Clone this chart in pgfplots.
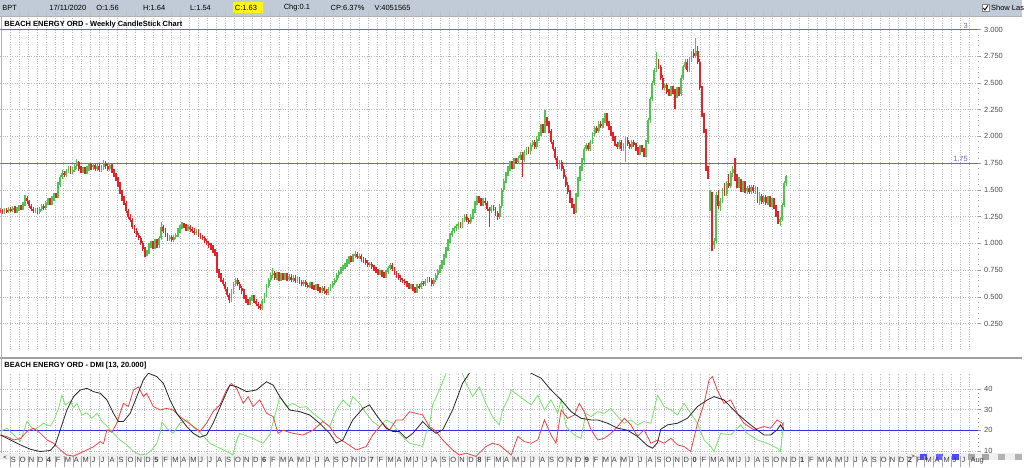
\documentclass[border=0pt]{standalone}
\usepackage{pgfplots}
\pgfplotsset{compat=1.18}
\usepackage{pgfplotstable}
\usepackage{fontspec}
\setmainfont{Liberation Sans}
\definecolor{upc}{RGB}{80,196,80}
\definecolor{dnc}{RGB}{230,34,40}
\definecolor{hdr}{RGB}{192,203,215}
\definecolor{lvl}{RGB}{105,105,195}
\definecolor{gridc}{RGB}{185,185,185}
\definecolor{dmiblue}{RGB}{50,50,235}
\definecolor{pdi}{RGB}{120,225,110}
\definecolor{mdi}{RGB}{235,70,70}
\newcommand\sm{\fontsize{7.5}{9}\selectfont}

% weekly candles (x = week number from Aug 2013), rising weeks
\pgfplotstableread{
x o h l c
2 1.29 1.33 1.27 1.31
4 1.30 1.34 1.28 1.32
6 1.31 1.35 1.29 1.33
8 1.30 1.34 1.28 1.32
9 1.32 1.36 1.30 1.34
11 1.33 1.39 1.31 1.37
12 1.37 1.45 1.35 1.42
17 1.30 1.33 1.28 1.31
19 1.29 1.34 1.27 1.32
20 1.32 1.37 1.30 1.35
22 1.33 1.40 1.31 1.38
23 1.38 1.42 1.36 1.40
25 1.38 1.44 1.36 1.42
26 1.42 1.47 1.40 1.45
28 1.44 1.57 1.42 1.55
29 1.55 1.64 1.53 1.62
30 1.62 1.69 1.60 1.66
32 1.64 1.70 1.62 1.68
33 1.68 1.72 1.66 1.70
35 1.67 1.71 1.65 1.69
36 1.69 1.74 1.67 1.72
37 1.72 1.79 1.70 1.76
40 1.68 1.71 1.66 1.69
42 1.67 1.72 1.65 1.70
43 1.70 1.74 1.68 1.72
45 1.71 1.75 1.69 1.73
47 1.70 1.74 1.68 1.72
49 1.69 1.73 1.67 1.71
50 1.71 1.78 1.69 1.75
53 1.70 1.75 1.68 1.73
71 0.90 0.94 0.88 0.92
72 0.92 1.00 0.90 0.98
73 0.98 1.02 0.96 1.00
75 0.97 1.04 0.95 1.02
77 0.98 1.07 0.96 1.05
78 1.05 1.20 1.03 1.15
82 1.04 1.08 1.02 1.06
84 1.03 1.08 1.01 1.06
85 1.06 1.10 1.04 1.08
86 1.08 1.14 1.06 1.12
87 1.12 1.17 1.10 1.15
88 1.15 1.20 1.13 1.17
91 1.14 1.17 1.12 1.15
95 1.10 1.13 1.08 1.11
112 0.47 0.57 0.45 0.55
113 0.55 0.64 0.53 0.62
114 0.62 0.68 0.60 0.66
121 0.44 0.50 0.42 0.48
122 0.48 0.52 0.46 0.50
127 0.40 0.48 0.38 0.46
128 0.46 0.54 0.44 0.52
129 0.52 0.62 0.50 0.60
130 0.60 0.68 0.58 0.66
131 0.66 0.72 0.64 0.70
132 0.70 0.77 0.68 0.72
134 0.68 0.73 0.66 0.71
136 0.67 0.72 0.65 0.70
138 0.68 0.72 0.66 0.70
140 0.67 0.71 0.65 0.69
142 0.66 0.70 0.64 0.68
144 0.65 0.69 0.63 0.67
147 0.62 0.66 0.60 0.64
150 0.60 0.64 0.58 0.62
153 0.58 0.62 0.56 0.60
156 0.56 0.60 0.54 0.58
159 0.54 0.59 0.52 0.57
160 0.57 0.62 0.55 0.60
161 0.60 0.65 0.58 0.63
162 0.63 0.68 0.61 0.66
163 0.66 0.72 0.64 0.70
164 0.70 0.75 0.68 0.73
165 0.73 0.78 0.71 0.76
166 0.76 0.80 0.74 0.78
167 0.78 0.82 0.76 0.80
168 0.80 0.85 0.78 0.83
169 0.83 0.88 0.81 0.86
171 0.85 0.90 0.83 0.88
172 0.88 0.93 0.86 0.90
174 0.87 0.90 0.85 0.88
179 0.80 0.83 0.78 0.81
184 0.72 0.75 0.70 0.73
187 0.70 0.75 0.68 0.73
188 0.73 0.79 0.71 0.77
189 0.77 0.82 0.75 0.80
199 0.59 0.62 0.57 0.60
202 0.56 0.62 0.54 0.60
204 0.59 0.65 0.57 0.63
206 0.62 0.67 0.60 0.65
207 0.65 0.69 0.63 0.67
210 0.62 0.68 0.60 0.66
211 0.66 0.72 0.64 0.70
212 0.70 0.76 0.68 0.74
213 0.74 0.80 0.72 0.78
214 0.78 0.84 0.76 0.82
215 0.82 0.90 0.80 0.88
216 0.88 0.97 0.86 0.95
217 0.95 1.04 0.93 1.02
218 1.02 1.10 1.00 1.08
219 1.08 1.14 1.06 1.12
220 1.12 1.16 1.10 1.14
221 1.14 1.18 1.12 1.16
222 1.16 1.20 1.13 1.18
224 1.16 1.24 1.14 1.22
225 1.22 1.27 1.20 1.25
228 1.20 1.27 1.18 1.25
229 1.25 1.32 1.23 1.30
230 1.30 1.40 1.28 1.38
231 1.38 1.44 1.36 1.42
234 1.37 1.42 1.35 1.40
238 1.30 1.36 1.28 1.34
242 1.25 1.37 1.23 1.35
243 1.35 1.52 1.33 1.50
244 1.50 1.60 1.48 1.58
245 1.58 1.67 1.56 1.65
246 1.65 1.72 1.63 1.70
247 1.70 1.77 1.68 1.75
249 1.72 1.80 1.70 1.78
251 1.76 1.82 1.74 1.80
252 1.80 1.85 1.78 1.83
254 1.78 1.87 1.76 1.85
255 1.85 1.90 1.83 1.88
257 1.86 1.94 1.84 1.92
258 1.92 1.97 1.90 1.95
260 1.90 2.00 1.88 1.98
261 1.98 2.04 1.96 2.02
262 2.02 2.12 2.00 2.10
264 2.05 2.25 2.03 2.15
271 1.72 1.78 1.70 1.76
279 1.30 1.47 1.28 1.45
280 1.45 1.62 1.43 1.60
281 1.60 1.72 1.58 1.70
282 1.70 1.80 1.68 1.78
283 1.78 1.90 1.76 1.88
284 1.88 1.94 1.86 1.92
286 1.88 1.97 1.86 1.95
287 1.95 2.04 1.93 2.02
288 2.02 2.10 2.00 2.08
290 2.05 2.14 2.03 2.12
292 2.10 2.17 2.08 2.15
293 2.15 2.22 2.13 2.20
300 1.90 1.97 1.88 1.95
302 1.88 1.94 1.86 1.92
303 1.92 1.99 1.76 1.97
306 1.90 1.97 1.88 1.95
310 1.85 1.92 1.83 1.90
313 1.83 1.97 1.81 1.95
314 1.95 2.17 1.93 2.15
315 2.15 2.37 2.13 2.35
316 2.35 2.52 2.33 2.50
317 2.50 2.64 2.48 2.62
318 2.62 2.79 2.60 2.70
322 2.45 2.50 2.43 2.48
325 2.40 2.47 2.38 2.45
328 2.38 2.46 2.36 2.44
330 2.40 2.57 2.38 2.55
331 2.55 2.67 2.53 2.65
332 2.65 2.72 2.63 2.70
334 2.62 2.74 2.60 2.72
335 2.72 2.80 2.70 2.78
337 2.75 2.92 2.73 2.80
344 1.35 1.50 1.30 1.46
346 0.98 1.05 0.95 1.02
347 1.02 1.48 1.00 1.45
349 1.35 1.42 1.30 1.40
350 1.40 1.52 1.38 1.50
352 1.46 1.58 1.44 1.56
354 1.54 1.68 1.52 1.66
355 1.66 1.72 1.62 1.70
358 1.55 1.62 1.52 1.58
360 1.50 1.58 1.48 1.56
362 1.49 1.54 1.46 1.52
364 1.48 1.55 1.46 1.53
366 1.49 1.54 1.46 1.52
368 1.40 1.48 1.36 1.44
370 1.39 1.45 1.37 1.43
372 1.38 1.44 1.36 1.42
374 1.36 1.42 1.34 1.40
378 1.20 1.25 1.16 1.23
379 1.23 1.38 1.21 1.36
380 1.36 1.58 1.34 1.56
381 1.56 1.64 1.54 1.63
}\up

% falling weeks
\pgfplotstableread{
x o h l c
0 1.31 1.33 1.28 1.30
1 1.30 1.32 1.27 1.29
3 1.31 1.33 1.28 1.30
5 1.32 1.34 1.29 1.31
7 1.33 1.35 1.28 1.30
10 1.34 1.36 1.31 1.33
13 1.42 1.44 1.37 1.40
14 1.40 1.41 1.33 1.35
15 1.35 1.37 1.30 1.32
16 1.32 1.34 1.28 1.30
18 1.31 1.33 1.27 1.29
21 1.35 1.37 1.31 1.33
24 1.40 1.42 1.36 1.38
27 1.45 1.47 1.42 1.44
31 1.66 1.68 1.62 1.64
34 1.70 1.72 1.65 1.67
38 1.76 1.77 1.68 1.70
39 1.70 1.72 1.66 1.68
41 1.69 1.71 1.65 1.67
44 1.72 1.74 1.69 1.71
46 1.73 1.75 1.68 1.70
48 1.72 1.74 1.67 1.69
51 1.75 1.77 1.70 1.72
52 1.72 1.74 1.68 1.70
54 1.73 1.74 1.66 1.68
55 1.68 1.70 1.62 1.64
56 1.64 1.66 1.58 1.60
57 1.60 1.62 1.53 1.55
58 1.55 1.57 1.46 1.48
59 1.48 1.50 1.40 1.42
60 1.42 1.44 1.36 1.38
61 1.38 1.40 1.28 1.30
62 1.30 1.32 1.23 1.25
63 1.25 1.27 1.20 1.22
64 1.22 1.24 1.13 1.15
65 1.15 1.17 1.10 1.12
66 1.12 1.14 1.06 1.08
67 1.08 1.10 1.03 1.05
68 1.05 1.07 0.98 1.00
69 1.00 1.02 0.93 0.95
70 0.95 0.97 0.87 0.90
74 1.00 1.02 0.95 0.97
76 1.02 1.04 0.96 0.98
79 1.15 1.17 1.10 1.12
80 1.12 1.14 1.06 1.08
81 1.08 1.10 1.02 1.04
83 1.06 1.08 1.01 1.03
89 1.17 1.19 1.14 1.16
90 1.16 1.18 1.12 1.14
92 1.15 1.17 1.11 1.13
93 1.13 1.15 1.10 1.12
94 1.12 1.14 1.08 1.10
96 1.11 1.13 1.06 1.08
97 1.08 1.10 1.04 1.06
98 1.06 1.08 1.03 1.05
99 1.05 1.07 1.00 1.02
100 1.02 1.04 0.98 1.00
101 1.00 1.02 0.96 0.98
102 0.98 1.00 0.94 0.96
103 0.96 0.98 0.91 0.93
104 0.93 0.95 0.88 0.90
105 0.90 0.92 0.72 0.74
106 0.74 0.76 0.68 0.70
107 0.70 0.72 0.64 0.66
108 0.66 0.68 0.60 0.62
109 0.62 0.64 0.55 0.57
110 0.57 0.59 0.50 0.52
111 0.52 0.54 0.44 0.47
115 0.66 0.68 0.60 0.62
116 0.62 0.64 0.56 0.58
117 0.58 0.60 0.53 0.55
118 0.55 0.57 0.48 0.50
119 0.50 0.52 0.44 0.46
120 0.46 0.48 0.42 0.44
123 0.50 0.52 0.44 0.46
124 0.46 0.48 0.41 0.43
125 0.43 0.45 0.39 0.41
126 0.41 0.43 0.38 0.40
133 0.72 0.74 0.66 0.68
135 0.71 0.73 0.65 0.67
137 0.70 0.72 0.66 0.68
139 0.70 0.72 0.65 0.67
141 0.69 0.71 0.64 0.66
143 0.68 0.70 0.63 0.65
145 0.67 0.69 0.62 0.64
146 0.64 0.66 0.60 0.62
148 0.64 0.66 0.59 0.61
149 0.61 0.63 0.58 0.60
151 0.62 0.64 0.57 0.59
152 0.59 0.61 0.56 0.58
154 0.60 0.62 0.55 0.57
155 0.57 0.59 0.54 0.56
157 0.58 0.60 0.53 0.55
158 0.55 0.57 0.52 0.54
170 0.86 0.88 0.83 0.85
173 0.90 0.92 0.85 0.87
175 0.88 0.90 0.83 0.85
176 0.85 0.87 0.82 0.84
177 0.84 0.86 0.80 0.82
178 0.82 0.84 0.78 0.80
180 0.81 0.83 0.76 0.78
181 0.78 0.80 0.74 0.76
182 0.76 0.78 0.72 0.74
183 0.74 0.76 0.70 0.72
185 0.73 0.75 0.69 0.71
186 0.71 0.73 0.68 0.70
190 0.80 0.82 0.74 0.76
191 0.76 0.78 0.70 0.72
192 0.72 0.74 0.68 0.70
193 0.70 0.72 0.66 0.68
194 0.68 0.70 0.64 0.66
195 0.66 0.68 0.63 0.65
196 0.65 0.67 0.61 0.63
197 0.63 0.65 0.59 0.61
198 0.61 0.63 0.57 0.59
200 0.60 0.62 0.55 0.57
201 0.57 0.59 0.54 0.56
203 0.60 0.62 0.57 0.59
205 0.63 0.65 0.60 0.62
208 0.67 0.69 0.64 0.66
209 0.66 0.68 0.60 0.62
223 1.18 1.20 1.14 1.16
226 1.25 1.27 1.20 1.22
227 1.22 1.24 1.18 1.20
232 1.42 1.44 1.38 1.40
233 1.40 1.42 1.35 1.37
235 1.40 1.42 1.36 1.38
236 1.38 1.40 1.30 1.32
237 1.32 1.34 1.15 1.30
239 1.34 1.36 1.30 1.32
240 1.32 1.34 1.26 1.28
241 1.28 1.30 1.22 1.25
248 1.75 1.77 1.70 1.72
250 1.78 1.80 1.74 1.76
253 1.83 1.85 1.62 1.78
256 1.88 1.90 1.84 1.86
259 1.95 1.97 1.88 1.90
263 2.10 2.12 2.03 2.05
265 2.15 2.18 2.10 2.12
266 2.12 2.14 2.03 2.05
267 2.05 2.07 1.93 1.95
268 1.95 1.97 1.86 1.88
269 1.88 1.90 1.78 1.80
270 1.80 1.82 1.70 1.72
272 1.76 1.78 1.68 1.70
273 1.70 1.72 1.60 1.62
274 1.62 1.64 1.53 1.55
275 1.55 1.57 1.46 1.48
276 1.48 1.50 1.38 1.40
277 1.40 1.42 1.33 1.35
278 1.35 1.37 1.27 1.30
285 1.92 1.94 1.86 1.88
289 2.08 2.10 2.03 2.05
291 2.12 2.14 2.08 2.10
294 2.20 2.22 2.10 2.12
295 2.12 2.14 2.06 2.08
296 2.08 2.10 2.00 2.02
297 2.02 2.04 1.96 1.98
298 1.98 2.00 1.91 1.93
299 1.93 1.95 1.88 1.90
301 1.95 1.97 1.86 1.88
304 1.97 1.99 1.91 1.93
305 1.93 1.95 1.88 1.90
307 1.95 1.97 1.90 1.92
308 1.92 1.94 1.86 1.88
309 1.88 1.90 1.83 1.85
311 1.90 1.92 1.85 1.87
312 1.87 1.89 1.81 1.83
319 2.70 2.72 2.63 2.65
320 2.65 2.67 2.53 2.55
321 2.55 2.57 2.43 2.45
323 2.48 2.50 2.40 2.42
324 2.42 2.44 2.38 2.40
326 2.45 2.47 2.40 2.42
327 2.42 2.44 2.26 2.38
329 2.44 2.46 2.38 2.40
333 2.70 2.72 2.60 2.62
336 2.78 2.82 2.73 2.75
338 2.80 2.85 2.68 2.70
339 2.70 2.72 2.43 2.45
340 2.45 2.47 2.18 2.20
341 2.20 2.22 2.03 2.05
342 2.05 2.07 1.68 1.70
343 1.70 1.72 1.60 1.62
345 1.46 1.48 0.93 0.98
348 1.45 1.50 1.32 1.35
351 1.50 1.56 1.44 1.46
353 1.56 1.65 1.52 1.54
356 1.70 1.80 1.58 1.60
357 1.60 1.65 1.52 1.55
359 1.58 1.60 1.48 1.50
361 1.56 1.58 1.47 1.49
363 1.52 1.55 1.46 1.48
365 1.53 1.55 1.47 1.49
367 1.52 1.53 1.38 1.40
369 1.44 1.46 1.37 1.39
371 1.43 1.45 1.36 1.38
373 1.42 1.44 1.34 1.36
375 1.40 1.42 1.32 1.34
376 1.34 1.36 1.25 1.28
377 1.28 1.30 1.18 1.20
}\down

\begin{document}
\begin{tikzpicture}[x=1pt,y=1pt,font=\sm]
\fill[white] (0,0) rectangle (1024,461);
% header bar
\fill[hdr] (0,445) rectangle (1024,461);
\draw[gray!60] (0,444.5) -- (1024,444.5);
\fill[yellow!90!white] (233,448) rectangle (263,459);
\node[anchor=west,inner sep=0] at (2,453.5) {BPT};
\node[anchor=west,inner sep=0] at (49,453.5) {17/11/2020};
\node[anchor=west,inner sep=0] at (96,453.5) {O:1.56};
\node[anchor=west,inner sep=0] at (143,453.5) {H:1.64};
\node[anchor=west,inner sep=0] at (190,453.5) {L:1.54};
\node[anchor=west,inner sep=0] at (235,453.5) {C:1.63};
\node[anchor=west,inner sep=0] at (284,453.5) {Chg:0.1};
\node[anchor=west,inner sep=0] at (331,453.5) {CP:6.37\%};
\node[anchor=west,inner sep=0] at (375,453.5) {V:4051565};
\fill[white] (984,449.5) rectangle (991,456.5);
\draw[gray] (984,449.5) rectangle (991,456.5);
\draw[black,line width=0.9pt] (985.3,453) -- (987,451) -- (990,455.5);
\node[anchor=west,inner sep=0] at (993,453.5) {Show Las};
% panel separator
\fill[gray!75] (0,101) rectangle (1024,103.5);
% bottom scroll strip
\fill[gray!12] (0,0) rectangle (1024,6.5);
\node[anchor=west,inner sep=0,font=\fontsize{6}{6}\selectfont] at (3,2.5) {<};
\node[anchor=west,inner sep=0,font=\fontsize{6}{6}\selectfont] at (913,3.5) {>};
\foreach \xx/\cc in {922/blue!70,938/blue!60,954/blue!70,970/gray!70,984/gray!70,1000/gray!60,1017/gray!60}
  \fill[\cc] (\xx,0) rectangle ++(7,6);
\draw[gray!60] (0.5,6.5) -- (0.5,444);

% ---------------- price panel
\begin{axis}[at={(0,104)}, anchor=south west, scale only axis,
  width=980pt, height=340pt,
  xmin=-0.05, xmax=473.85, ymin=0.015, ymax=3.187,
  axis line style={draw=none},
  xtick={4.642,8.989,...,470.5}, xticklabels={}, major x tick style={draw=none},
  xtick pos=left,
  ytick={0.25,0.5,...,3.01}, minor y tick num=4,
  ytick pos=right, yticklabel pos=right,
  tick align=outside, major tick length=3pt, minor tick length=1.2pt,
  y tick style={gray!80, line width=0.6pt},
  yticklabel style={font=\sm, color=black!70, inner sep=1pt, xshift=2pt},
  /pgf/number format/.cd, fixed, fixed zerofill, precision=3, assume math mode=true,
  /pgfplots/.cd,
  grid=major, grid style={gridc, dotted, line width=0.6pt},
  ]
  \addplot[lvl, line width=0.7pt, forget plot] coordinates {(-1,3) (475,3)};
  \addplot[lvl, line width=0.7pt, forget plot] coordinates {(-1,1.75) (475,1.75)};
  \node[anchor=south east, inner sep=1pt, text=lvl] at (axis cs:469.5,3) {3};
  \node[anchor=south east, inner sep=1pt, text=lvl] at (axis cs:469.5,1.75) {1.75};
  % wicks, low to high
  \addplot[draw=none, mark=none, forget plot,
    error bars/.cd, y dir=both, y explicit, error mark=none,
    error bar style={draw=upc, line width=1.4pt, line cap=butt}]
    table[x=x, y expr=(\thisrow{h}+\thisrow{l})/2, y error expr=(\thisrow{h}-\thisrow{l})/2] {\up};
  \addplot[draw=none, mark=none, forget plot,
    error bars/.cd, y dir=both, y explicit, error mark=none,
    error bar style={draw=dnc, line width=1.4pt, line cap=butt}]
    table[x=x, y expr=(\thisrow{h}+\thisrow{l})/2, y error expr=(\thisrow{h}-\thisrow{l})/2] {\down};
  % bodies, open to close
  \addplot[draw=none, mark=none, forget plot,
    error bars/.cd, y dir=both, y explicit, error mark=none,
    error bar style={draw=upc, line width=1.9pt, line cap=butt}]
    table[x=x, y expr=(\thisrow{o}+\thisrow{c})/2, y error expr=(\thisrow{c}-\thisrow{o})/2] {\up};
  \addplot[draw=none, mark=none, forget plot,
    error bars/.cd, y dir=both, y explicit, error mark=none,
    error bar style={draw=dnc, line width=1.9pt, line cap=butt}]
    table[x=x, y expr=(\thisrow{o}+\thisrow{c})/2, y error expr=(\thisrow{o}-\thisrow{c})/2] {\down};
\end{axis}
\node[anchor=west, inner sep=0, font=\sm\bfseries] at (4,436) {BEACH ENERGY ORD - Weekly CandleStick Chart};

% ---------------- DMI panel
\begin{axis}[at={(0,18)}, anchor=south west, scale only axis,
  width=980pt, height=83pt,
  xmin=-0.05, xmax=473.85, ymin=7.44, ymax=47.54,
  axis line style={draw=none},
  xtick=\empty,
  extra x ticks={4.642,8.989,...,470.5},
  extra x tick labels={S,O,N,D,\textbf{4},F,M,A,M,J,J,A,S,O,N,D,\textbf{5},F,M,A,M,J,J,A,S,O,N,D,\textbf{6},F,M,A,M,J,J,A,S,O,N,D,\textbf{7},F,M,A,M,J,J,A,S,O,N,D,\textbf{8},F,M,A,M,J,J,A,S,O,N,D,\textbf{9},F,M,A,M,J,J,A,S,O,N,D,\textbf{0},F,M,A,M,J,J,A,S,O,N,D,\textbf{1},F,M,A,M,J,J,A,S,O,N,D,\textbf{2},F,M,A,M,J,J,Aug},
  extra x tick style={major tick length=11pt, grid=major,
    tick style={gray!70, line width=0.5pt},
    xticklabel style={anchor=north west, inner sep=0.8pt, yshift=11pt, font=\sm, color=black!75}},
  xtick pos=left, xticklabel pos=left,
  ytick={10,20,30,40}, minor y tick num=4,
  ytick pos=right, yticklabel pos=right,
  tick align=outside, major tick length=3pt, minor tick length=1.2pt,
  y tick style={gray!80, line width=0.6pt},
  yticklabel style={font=\sm, color=black!70, inner sep=1pt, xshift=2pt},
  /pgf/number format/assume math mode=true,
  grid=major, grid style={gridc, dotted, line width=0.6pt},
  ]
  \addplot[dmiblue, line width=0.8pt, forget plot] coordinates {(-1,20) (475,20)};
  % +DI
  \addplot[pdi, line width=0.8pt] coordinates {
(0,19.5)(3.2,21)(9.7,14.7)(12.9,24.3)(16.1,20)(20.9,23.4)(24.2,22)(25.8,24.5)(28.2,30.6)(29.8,37)(31.4,32.2)(33.9,34)(35.5,31)(37.1,33)(39.5,27.4)(41.9,28.5)(44.3,25.8)(46.8,28.2)(49.2,24.3)(51.6,22)(54.8,18.6)(58,15.3)(61.3,12.9)(64.5,9.8)(67.7,8)(70.9,8.5)(73.4,10.5)(75.8,13.7)(77.4,18.6)(78.3,24)(80.6,21)(83.8,18.6)(87,23.4)(90.3,25)(93.5,21.5)(96.7,19)(101.5,13.7)(106.4,11.3)(111.2,8.9)(112.7,8)(114.5,15)(116,18.5)(122.5,16)(127.3,13.7)(130.6,18)(133.8,29.8)(135.4,36.3)(138.6,31.5)(141.8,33)(145.1,31)(148.3,31.5)(151.5,28.2)(154.7,25.8)(159.6,21.8)(162.8,29.8)(166,34.7)(169.2,31.5)(170.8,36.3)(174.1,33)(177.3,28.2)(180.5,24.2)(183.8,21.8)(187,25)(190.2,23.4)(193.4,18.5)(198.3,13.7)(201.5,13)(204.7,12.1)(206.3,18.5)(207.9,22)(209.5,32.3)(212.8,39.5)(216,47.6)(217.6,52)(222.4,52)(225.7,42.7)(228.9,36.3)(232.1,41.1)(235.3,33)(238.5,26.6)(241.8,22.6)(243.4,29.8)(246.6,36.3)(247.6,39.5)(250.8,37)(254,34.7)(257.3,32.3)(260.5,37)(263.7,29.8)(266.9,34.7)(270.2,28.2)(271.8,34.7)(274.2,21.8)(278.2,17.7)(281.4,16.1)(283.8,28.2)(286.3,26.6)(289.5,29)(292.7,28.2)(295.9,30.6)(299.2,26.6)(302.4,23.4)(305.6,25)(308.8,22.6)(312,24.2)(315.3,23.4)(318.5,37)(321.7,31.5)(325,29.8)(328.2,27.4)(331.4,33)(334.6,28.2)(337.9,23.4)(341.1,15.3)(344.3,12.1)(345.9,9.7)(349.1,18.5)(354,17.7)(358.8,22.6)(362,18.5)(366.9,15.3)(371.7,13.7)(376.5,11.3)(378.1,9.7)(379.7,24.2)};
  % -DI
  \addplot[mdi, line width=0.8pt] coordinates {
(0,17.7)(3.2,16.9)(6.4,15.3)(9.7,16)(12.9,19.4)(16.1,21)(19.3,18.6)(22.6,15.3)(25.8,13.7)(29,10.5)(32.2,8)(35.5,7.5)(38.7,9)(41.9,10.5)(45.1,12)(48.4,14.5)(50,13.5)(51.6,20.2)(54,19)(56.4,23.4)(59.6,33)(62,31.5)(64.5,39.5)(66.9,41)(69.3,36.3)(70.9,37.9)(74.1,31.5)(77.4,29.8)(80.6,30.6)(83.8,29.8)(87,26.6)(90.3,24.2)(93.5,21.8)(96.7,19.4)(99.9,23.4)(103.1,29)(106.4,32.3)(109.6,39.5)(112,42.7)(114.5,40.3)(117.7,33)(120.1,36.3)(122.5,31.5)(125.7,34.7)(129,28.2)(132.2,26.6)(134.6,18.5)(137,20)(141.8,18.5)(146.7,17.7)(151.5,20)(156.3,24.2)(159.6,21.8)(162.8,16.9)(167.7,13.7)(172.5,10.5)(177.3,12.1)(180.5,17.7)(185.3,23.4)(188.6,20)(191.8,25)(195,25)(198.3,29)(201.5,28.2)(204.7,27.4)(207.9,21.8)(211.2,19.4)(214.4,15.3)(219.2,10.5)(222.4,8)(225.7,8.9)(230.5,7.3)(235.3,12.1)(238.5,13.7)(241.8,12.9)(246.6,8.9)(247.6,8)(250.8,17)(254,14.5)(257.3,13.7)(260.5,15.3)(263.7,25)(266.9,17.7)(269.3,13.7)(271.8,29.8)(275,25.8)(278.2,27.4)(280.6,33)(283,29)(286.3,20.2)(289.5,15.3)(292.7,16.1)(295.9,18.5)(299.2,21.8)(302.4,25.8)(305.6,22.6)(308.8,17)(312,20.2)(315.3,13.7)(318.5,15.3)(321.7,13.7)(325,16.1)(328.2,12.9)(331.4,12.1)(334.6,9.7)(337.9,23.4)(341.1,33)(343.5,44.4)(345.1,46)(347.5,39.5)(350.7,33)(354,34.7)(357.2,28.2)(360.4,23.4)(365.2,20.2)(370.1,21.8)(373.3,21)(376.5,25)(379,23.4)(379.7,20)};
  % ADX
  \addplot[black!85, line width=0.8pt] coordinates {
(0,17.7)(4.8,15.3)(9.7,12.9)(14.5,10.8)(19.3,9.7)(24.2,10.2)(26.6,12.9)(29,20.2)(32.2,29.8)(35.5,36.3)(38.7,39.5)(41.9,40.3)(45.1,38.7)(48.4,37.9)(51.6,34.7)(54.8,28.2)(57.2,24.2)(59.6,24.2)(62.9,28.2)(66.1,36.3)(69.3,44.4)(71.7,47.6)(75.8,46)(79,42.7)(82.2,34.7)(85.4,28.2)(90.3,21.8)(93.5,18.5)(96.7,16.6)(99.9,17.7)(103.1,23.4)(108,34.7)(111.2,41.9)(114.5,41.1)(119.3,38.7)(124.1,39.5)(129,43.5)(132.2,41.9)(135.4,36.3)(140.2,29.8)(145.1,29)(149.9,27.4)(154.7,23.4)(159.6,18.5)(162.8,13.7)(166,15.3)(170.8,25)(175.7,30.6)(178.9,32.3)(182.2,27.4)(187,21)(190.2,19.4)(193.4,19.4)(196.7,16.1)(199.9,18.5)(204.7,24.2)(207.9,21)(211.2,18.5)(214.4,20.2)(219.2,29.8)(224,42.7)(227.3,47.6)(232.1,52)(250,52)(257.3,47.6)(262.1,45.2)(266.9,39.5)(271.8,34.7)(276.6,29)(281.4,25.8)(286.3,25)(289.5,25)(294.3,23.4)(299.2,21)(304,20)(308.8,17)(313.7,12.5)(316.1,11.3)(318.5,14)(320.1,20.5)(323.4,22.6)(328.2,23.4)(333,25.8)(337.9,31.5)(342.7,34.7)(345.9,36.3)(350.7,34.7)(357.2,28)(363.6,22.6)(370.1,17.7)(373.3,17.7)(376.5,20.2)(378.1,22.6)(379.7,20.2)};
\end{axis}
\node[anchor=west, inner sep=0, font=\sm\bfseries] at (4,95) {BEACH ENERGY ORD - DMI [13, 20.000]};
\end{tikzpicture}
\end{document}
